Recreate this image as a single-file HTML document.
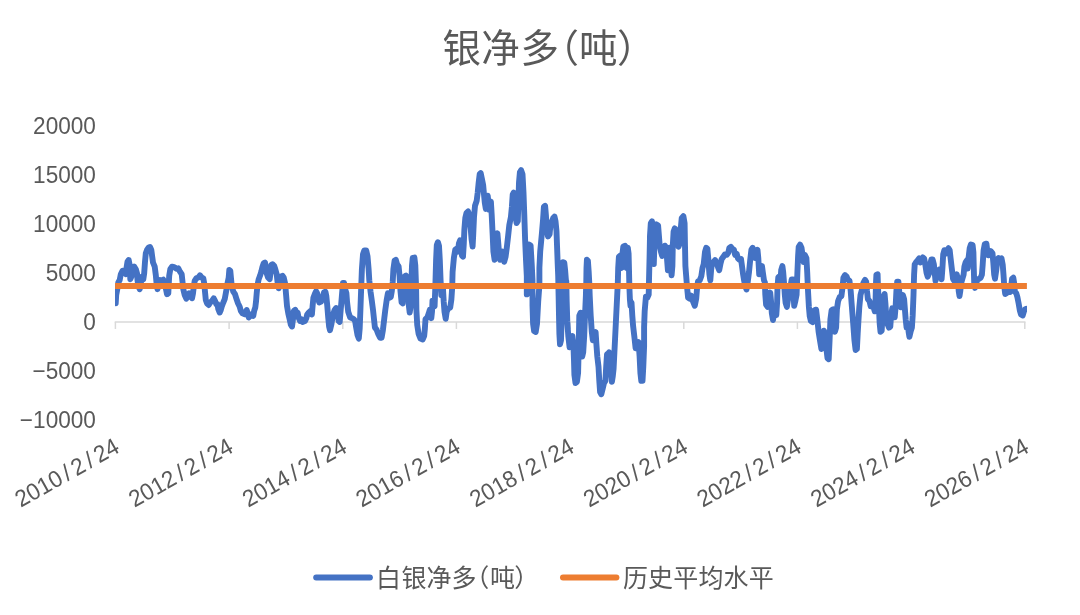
<!DOCTYPE html>
<html lang="zh"><head><meta charset="utf-8"><title>银净多(吨)</title>
<style>
html,body{margin:0;padding:0;background:#fff;}
body{width:1080px;height:615px;overflow:hidden;}
svg{display:block;}
.cjk{font-family:"Liberation Sans","Noto Sans CJK SC",sans-serif;}
.num{font-family:"Liberation Sans","Noto Sans CJK SC",sans-serif;}
</style></head><body>
<svg width="1080" height="615" viewBox="0 0 1080 615">
<rect width="1080" height="615" fill="#fff"/>
<defs><clipPath id="plot"><rect x="115.1" y="100" width="911.8" height="340"/></clipPath></defs>
<text class="cjk" font-size="38.5" fill="#595959" y="61.5" x="442.6 481.3 520.6 540.5 579 617">银净多（吨）</text>
<text class="num" font-size="23.6" fill="#595959" text-anchor="end" transform="translate(95.9,133.6) scale(0.958,1)">20000</text>
<text class="num" font-size="23.6" fill="#595959" text-anchor="end" transform="translate(95.9,182.7) scale(0.958,1)">15000</text>
<text class="num" font-size="23.6" fill="#595959" text-anchor="end" transform="translate(95.9,231.8) scale(0.958,1)">10000</text>
<text class="num" font-size="23.6" fill="#595959" text-anchor="end" transform="translate(95.9,280.9) scale(0.958,1)">5000</text>
<text class="num" font-size="23.6" fill="#595959" text-anchor="end" transform="translate(95.9,330.0) scale(0.958,1)">0</text>
<text class="num" font-size="23.6" fill="#595959" text-anchor="end" transform="translate(95.9,379.1) scale(0.958,1)">−5000</text>
<text class="num" font-size="23.6" fill="#595959" text-anchor="end" transform="translate(95.9,428.2) scale(0.958,1)">−10000</text>
<path d="M114.7,321.95 H1025.5" stroke="#d9d9d9" stroke-width="1.5" fill="none"/>
<path d="M115.4,321.95 V328.95" stroke="#d9d9d9" stroke-width="1.5" fill="none"/>
<path d="M229.1,321.95 V328.95" stroke="#d9d9d9" stroke-width="1.5" fill="none"/>
<path d="M342.8,321.95 V328.95" stroke="#d9d9d9" stroke-width="1.5" fill="none"/>
<path d="M456.4,321.95 V328.95" stroke="#d9d9d9" stroke-width="1.5" fill="none"/>
<path d="M570.1,321.95 V328.95" stroke="#d9d9d9" stroke-width="1.5" fill="none"/>
<path d="M683.8,321.95 V328.95" stroke="#d9d9d9" stroke-width="1.5" fill="none"/>
<path d="M797.4,321.95 V328.95" stroke="#d9d9d9" stroke-width="1.5" fill="none"/>
<path d="M911.1,321.95 V328.95" stroke="#d9d9d9" stroke-width="1.5" fill="none"/>
<path d="M1024.8,321.95 V328.95" stroke="#d9d9d9" stroke-width="1.5" fill="none"/>
<text class="num" font-size="23.6" fill="#595959" text-anchor="end" transform="translate(121.0,451.2) rotate(-29.5) scale(0.958,1)" x="0" y="0" dx="0 0 0 0 3.8 3.8 3.8 3.8 0">2010/2/24</text>
<text class="num" font-size="23.6" fill="#595959" text-anchor="end" transform="translate(234.7,451.2) rotate(-29.5) scale(0.958,1)" x="0" y="0" dx="0 0 0 0 3.8 3.8 3.8 3.8 0">2012/2/24</text>
<text class="num" font-size="23.6" fill="#595959" text-anchor="end" transform="translate(348.4,451.2) rotate(-29.5) scale(0.958,1)" x="0" y="0" dx="0 0 0 0 3.8 3.8 3.8 3.8 0">2014/2/24</text>
<text class="num" font-size="23.6" fill="#595959" text-anchor="end" transform="translate(462.0,451.2) rotate(-29.5) scale(0.958,1)" x="0" y="0" dx="0 0 0 0 3.8 3.8 3.8 3.8 0">2016/2/24</text>
<text class="num" font-size="23.6" fill="#595959" text-anchor="end" transform="translate(575.7,451.2) rotate(-29.5) scale(0.958,1)" x="0" y="0" dx="0 0 0 0 3.8 3.8 3.8 3.8 0">2018/2/24</text>
<text class="num" font-size="23.6" fill="#595959" text-anchor="end" transform="translate(689.4,451.2) rotate(-29.5) scale(0.958,1)" x="0" y="0" dx="0 0 0 0 3.8 3.8 3.8 3.8 0">2020/2/24</text>
<text class="num" font-size="23.6" fill="#595959" text-anchor="end" transform="translate(803.0,451.2) rotate(-29.5) scale(0.958,1)" x="0" y="0" dx="0 0 0 0 3.8 3.8 3.8 3.8 0">2022/2/24</text>
<text class="num" font-size="23.6" fill="#595959" text-anchor="end" transform="translate(916.7,451.2) rotate(-29.5) scale(0.958,1)" x="0" y="0" dx="0 0 0 0 3.8 3.8 3.8 3.8 0">2024/2/24</text>
<text class="num" font-size="23.6" fill="#595959" text-anchor="end" transform="translate(1030.4,451.2) rotate(-29.5) scale(0.958,1)" x="0" y="0" dx="0 0 0 0 3.8 3.8 3.8 3.8 0">2026/2/24</text>
<path d="M115.7,303.2 L116.2,295.0 L117.5,288.0 L118.3,282.5 L119.7,280.0 L120.8,274.2 L122.5,270.8 L124.7,270.8 L125.8,274.2 L126.7,266.7 L127.5,261.7 L128.7,260.0 L129.7,265.0 L130.0,273.3 L130.3,279.2 L131.7,275.8 L133.0,269.2 L134.3,266.7 L135.8,269.2 L137.0,273.3 L137.5,280.0 L138.3,285.8 L139.7,289.2 L140.8,283.3 L141.7,276.7 L143.3,279.2 L144.2,273.3 L145.0,261.7 L145.8,253.3 L147.0,250.0 L148.7,247.5 L150.0,247.0 L151.3,250.0 L152.2,256.7 L153.0,262.5 L154.7,266.7 L155.8,275.0 L156.7,285.0 L157.5,289.2 L158.7,283.3 L160.0,280.0 L161.7,280.8 L163.3,279.7 L164.7,282.5 L165.8,288.3 L167.0,294.2 L168.3,293.3 L168.7,285.0 L169.2,275.8 L170.3,269.2 L172.0,266.7 L174.2,267.2 L176.3,268.7 L178.3,268.3 L180.0,271.7 L181.7,274.2 L182.5,281.7 L183.3,289.2 L184.7,295.0 L186.3,298.7 L188.0,296.7 L189.2,293.3 L190.8,295.8 L192.0,298.3 L193.0,293.3 L193.8,286.7 L194.7,280.8 L196.3,278.3 L198.3,277.5 L200.0,275.3 L201.7,277.5 L203.3,278.3 L204.2,283.3 L205.0,291.7 L205.8,300.0 L207.0,303.3 L208.7,305.0 L210.3,302.5 L212.0,300.8 L213.7,298.3 L215.0,300.8 L216.3,304.2 L217.5,304.2 L218.3,309.2 L219.7,312.5 L220.8,310.0 L222.0,305.8 L223.3,302.5 L224.7,299.2 L225.8,293.3 L226.7,288.3 L227.5,283.3 L228.7,277.5 L229.3,270.0 L230.3,270.8 L231.0,278.3 L231.7,285.8 L233.3,291.7 L235.0,294.2 L236.3,298.3 L238.0,303.3 L239.7,306.7 L240.8,310.8 L242.5,313.3 L244.7,314.2 L246.7,310.0 L248.0,314.2 L248.7,317.5 L250.3,315.8 L252.0,314.2 L253.3,315.8 L254.2,310.8 L255.3,307.5 L256.0,301.7 L256.7,293.3 L257.5,285.0 L258.7,279.2 L260.0,275.8 L261.3,271.7 L262.5,266.7 L263.7,263.3 L265.0,262.5 L265.8,266.7 L266.7,273.3 L268.0,277.5 L269.7,279.2 L270.5,273.3 L271.3,265.0 L272.5,264.2 L274.2,265.8 L275.3,269.2 L276.7,274.2 L277.5,281.7 L278.7,288.3 L279.7,283.3 L280.8,276.7 L282.5,275.8 L283.7,277.4 L285.2,283.9 L286.1,295.0 L287.0,306.1 L288.3,313.6 L289.6,319.1 L290.8,324.7 L292.0,326.5 L293.0,319.1 L293.9,310.8 L295.2,309.8 L296.7,313.6 L297.6,312.6 L298.5,317.3 L300.0,321.0 L301.3,319.1 L302.6,321.9 L305.0,321.0 L306.3,318.2 L307.2,314.5 L308.7,312.6 L310.6,310.8 L311.9,314.5 L312.6,306.1 L313.4,297.8 L314.8,294.1 L316.1,291.3 L317.1,293.2 L318.0,298.7 L319.3,302.4 L321.1,301.5 L322.6,296.9 L324.1,292.2 L325.4,291.7 L326.3,295.9 L327.3,306.1 L328.2,317.3 L329.1,326.5 L330.0,330.2 L331.5,323.8 L332.8,315.4 L334.7,309.8 L336.2,308.0 L337.5,313.6 L338.6,321.0 L339.7,321.9 L340.4,313.6 L341.2,304.3 L342.1,293.2 L343.0,283.0 L344.1,283.0 L345.2,289.5 L346.4,293.2 L347.1,302.4 L348.2,311.7 L350.1,317.3 L351.9,318.2 L353.8,319.1 L355.1,321.0 L356.0,326.5 L357.5,334.9 L358.8,338.6 L359.7,328.4 L360.4,309.8 L361.2,287.6 L361.9,269.1 L363.0,254.2 L364.3,250.5 L366.2,250.5 L367.5,256.1 L368.6,269.1 L369.3,280.2 L370.5,291.3 L371.8,300.6 L373.0,309.8 L374.2,321.0 L374.9,327.5 L376.4,329.3 L378.2,333.9 L380.1,337.7 L381.6,337.7 L382.9,330.2 L384.2,319.1 L385.3,309.8 L386.6,300.6 L387.9,293.2 L389.4,297.8 L390.8,296.9 L391.8,291.3 L392.7,282.0 L393.4,269.1 L394.6,260.7 L395.8,259.8 L397.1,264.4 L398.6,266.3 L399.6,276.5 L400.5,291.3 L401.6,302.4 L402.7,303.4 L403.6,287.6 L404.6,276.5 L406.0,275.6 L407.5,279.3 L408.3,291.3 L408.8,305.2 L409.7,312.6 L410.7,306.1 L411.2,287.6 L412.0,265.4 L412.7,257.9 L414.4,257.6 L415.3,265.4 L416.1,287.6 L416.4,309.8 L417.2,324.7 L418.6,333.9 L420.5,338.6 L422.7,339.5 L424.2,335.8 L424.9,328.4 L425.5,319.1 L427.4,317.3 L428.7,313.6 L429.8,309.8 L431.3,318.2 L432.0,311.7 L432.5,300.6 L433.5,305.2 L434.6,306.1 L435.3,287.6 L436.1,259.8 L436.8,245.0 L437.9,242.2 L439.0,245.9 L439.8,259.8 L440.5,278.3 L441.3,295.0 L442.9,287.2 L443.7,301.5 L444.5,311.7 L445.7,318.8 L446.7,311.7 L448.1,308.6 L450.2,307.6 L451.4,299.4 L452.2,287.2 L452.6,272.0 L453.9,257.7 L455.3,249.6 L456.7,248.6 L457.9,251.6 L458.9,243.5 L460.0,240.4 L461.0,247.6 L462.0,255.7 L463.0,256.7 L463.8,243.5 L464.4,229.2 L465.3,218.0 L466.5,212.9 L468.1,211.5 L469.5,215.0 L470.6,227.2 L471.6,239.4 L472.6,246.5 L473.2,235.3 L474.0,217.0 L475.0,205.8 L476.7,200.7 L477.7,192.6 L478.7,182.4 L479.7,174.2 L480.7,173.2 L481.8,178.3 L483.2,185.4 L484.0,194.6 L484.8,202.7 L485.8,208.9 L486.9,202.7 L487.7,195.6 L488.5,202.7 L489.3,209.9 L490.1,204.8 L490.9,201.7 L491.7,215.0 L492.6,233.3 L493.4,251.6 L494.6,259.8 L495.6,249.6 L496.4,237.4 L497.4,233.3 L498.3,243.5 L499.1,253.7 L500.1,259.8 L501.5,255.7 L502.5,251.6 L504.2,261.8 L505.6,256.7 L506.8,247.6 L508.2,235.3 L509.3,225.1 L510.9,217.0 L511.9,206.8 L512.7,194.6 L513.7,192.6 L514.6,202.7 L515.4,215.0 L516.6,223.1 L517.8,221.1 L518.4,202.7 L519.0,182.4 L519.9,172.2 L521.1,170.1 L522.5,174.2 L523.5,192.6 L524.3,215.0 L525.1,239.4 L526.0,259.8 L526.8,276.1 L526.8,285.2 L526.8,294.4 L527.6,287.2 L528.2,263.9 L529.0,244.5 L530.6,245.5 L531.7,263.9 L532.5,280.2 L532.5,291.3 L532.5,305.6 L533.1,323.9 L534.1,331.0 L535.7,332.0 L537.0,323.9 L538.2,301.5 L539.4,285.2 L539.4,267.9 L540.2,251.6 L541.9,233.3 L543.1,219.0 L543.9,206.8 L545.1,205.8 L545.9,215.0 L546.7,229.2 L548.0,236.4 L549.6,234.3 L550.6,223.1 L552.0,221.1 L553.3,218.0 L554.5,216.6 L555.5,221.1 L556.5,231.3 L557.1,247.6 L557.7,263.9 L558.2,276.1 L558.6,295.4 L559.0,315.7 L559.4,334.1 L560.0,344.3 L561.0,340.2 L561.6,321.9 L562.0,305.6 L562.4,287.2 L562.6,267.9 L563.0,262.2 L564.3,262.8 L565.1,270.0 L565.9,280.2 L566.3,281.1 L566.7,301.5 L567.3,321.9 L568.3,336.1 L569.6,347.3 L570.8,338.1 L572.4,336.1 L573.4,344.3 L574.0,360.6 L574.4,374.8 L575.5,383.0 L576.9,381.9 L578.1,372.8 L578.5,356.5 L578.9,336.1 L579.3,315.7 L580.6,312.7 L581.4,321.9 L581.8,342.2 L582.2,356.5 L583.2,352.4 L584.2,336.1 L585.0,315.7 L585.9,295.4 L586.3,281.1 L586.5,267.9 L586.9,259.8 L587.9,260.8 L588.7,272.0 L589.3,283.1 L589.7,295.4 L590.7,315.7 L591.8,332.0 L592.8,340.2 L594.4,336.1 L595.6,332.0 L596.4,344.3 L597.3,356.5 L598.5,366.7 L599.3,380.9 L600.1,392.1 L601.3,394.2 L602.6,389.1 L604.0,383.0 L605.4,380.9 L606.2,366.7 L607.0,354.4 L608.3,353.4 L609.1,352.4 L610.3,356.5 L611.1,370.7 L611.9,381.9 L612.7,376.9 L613.6,368.7 L614.4,352.4 L615.2,336.1 L616.2,315.7 L617.2,295.4 L617.8,283.1 L618.2,267.9 L618.9,256.7 L620.1,255.7 L620.9,263.9 L621.7,267.9 L622.5,253.7 L623.3,246.5 L625.0,245.9 L626.2,251.6 L626.8,267.9 L627.4,259.8 L627.8,247.6 L628.6,253.7 L629.0,270.0 L629.4,287.2 L629.9,299.4 L630.5,305.6 L631.5,302.5 L632.3,315.7 L633.1,325.9 L634.3,336.1 L635.6,348.3 L637.2,344.3 L638.6,342.2 L639.6,356.5 L640.4,372.8 L641.3,380.9 L642.5,380.9 L643.3,366.7 L644.1,346.3 L644.1,327.2 L644.7,310.9 L645.9,296.7 L647.3,297.7 L648.7,294.6 L649.1,276.3 L649.6,255.9 L650.0,235.6 L650.8,223.3 L652.0,221.3 L652.8,235.6 L653.2,255.9 L653.8,264.1 L654.4,245.7 L655.3,227.4 L656.5,224.4 L658.1,225.4 L658.9,235.6 L659.7,245.7 L661.0,251.9 L662.2,255.9 L663.6,251.9 L665.0,245.7 L666.3,247.8 L667.1,260.0 L667.9,270.2 L668.7,258.0 L669.5,247.8 L670.3,262.0 L671.6,275.3 L672.4,266.1 L672.8,245.7 L673.6,231.5 L674.8,228.4 L676.4,230.5 L677.3,239.6 L678.5,246.8 L679.7,243.7 L680.5,231.5 L681.7,218.2 L683.4,216.2 L684.6,223.3 L685.0,245.7 L685.4,266.1 L686.2,276.3 L687.0,286.5 L688.1,297.7 L689.5,298.7 L691.1,295.6 L692.7,300.7 L694.8,305.8 L696.2,298.7 L697.2,286.5 L698.0,281.4 L699.7,280.4 L701.3,276.3 L702.5,268.1 L703.7,264.1 L705.0,251.9 L706.2,247.8 L707.4,248.8 L708.4,260.0 L709.4,274.3 L710.3,280.4 L711.1,270.2 L711.9,264.1 L713.5,262.0 L715.1,260.0 L716.6,263.1 L718.0,267.1 L719.2,270.2 L720.4,264.1 L721.7,259.0 L723.3,256.9 L724.9,254.5 L726.8,254.9 L728.2,252.9 L729.4,247.8 L730.8,246.8 L732.3,248.8 L733.9,249.8 L735.1,254.9 L736.7,253.9 L738.0,258.4 L739.6,260.0 L741.0,259.0 L742.0,266.1 L743.1,274.3 L744.1,280.4 L745.3,286.5 L746.5,289.5 L747.7,282.4 L749.0,272.2 L750.2,260.0 L751.4,249.8 L752.6,247.8 L753.9,250.8 L755.1,258.0 L756.3,253.9 L757.5,249.8 L758.3,258.0 L759.2,274.3 L760.4,272.2 L762.0,266.1 L762.8,272.2 L764.0,280.4 L764.9,282.4 L765.3,294.6 L766.1,304.8 L767.7,306.9 L768.9,298.7 L770.2,292.6 L771.0,300.7 L771.8,313.0 L773.0,320.1 L774.2,313.0 L775.4,306.9 L776.3,315.0 L777.1,302.8 L777.5,286.5 L778.3,277.3 L779.5,276.3 L780.3,282.4 L781.2,270.2 L782.4,266.1 L783.2,272.2 L784.0,282.4 L784.8,294.6 L785.6,302.8 L786.9,306.9 L788.1,298.7 L789.3,294.6 L790.5,286.5 L791.7,279.4 L793.0,279.4 L793.4,292.6 L794.2,305.8 L795.4,300.7 L796.6,294.6 L797.4,272.2 L798.1,255.9 L798.7,246.8 L800.1,244.7 L801.5,247.8 L802.7,255.9 L803.6,262.0 L804.8,254.9 L806.4,258.0 L807.2,272.2 L808.0,290.6 L808.9,306.9 L809.7,316.0 L810.9,321.1 L812.5,322.1 L813.7,310.9 L815.4,309.9 L816.1,309.7 L817.3,319.5 L818.6,331.7 L820.2,341.9 L821.4,349.0 L822.6,335.8 L823.9,330.7 L825.1,333.7 L826.3,348.0 L827.5,358.2 L828.7,359.2 L829.6,339.9 L830.4,319.5 L831.6,310.3 L833.2,309.3 L834.0,319.5 L834.9,331.7 L836.1,327.6 L836.9,309.3 L838.1,301.1 L839.7,297.1 L841.4,296.1 L842.6,286.9 L843.4,277.7 L845.0,275.1 L846.7,276.7 L847.9,279.8 L849.5,280.8 L850.7,291.0 L851.6,303.2 L852.4,313.4 L853.2,323.6 L854.4,339.9 L855.6,350.0 L856.9,349.0 L857.7,333.7 L858.5,319.5 L859.3,307.3 L860.5,295.0 L862.1,288.9 L863.4,282.8 L865.0,279.8 L866.2,281.8 L867.0,291.0 L867.9,299.1 L869.5,301.1 L870.7,306.2 L872.3,305.2 L873.6,307.3 L874.8,311.3 L875.6,299.1 L876.0,282.8 L876.4,274.7 L877.6,274.3 L878.0,286.9 L878.9,307.3 L879.7,323.6 L880.5,331.7 L881.7,330.7 L882.5,315.4 L883.3,297.1 L884.6,294.0 L885.4,303.2 L886.2,315.4 L887.4,323.6 L889.0,327.6 L890.3,326.6 L891.1,315.4 L892.3,308.3 L893.5,309.3 L894.7,317.4 L895.6,307.3 L896.4,291.0 L897.2,281.8 L898.4,281.8 L899.2,291.0 L900.0,303.2 L900.9,307.3 L901.7,299.1 L902.9,295.0 L904.1,299.1 L904.9,309.3 L905.7,319.5 L906.6,327.6 L907.8,323.6 L908.6,331.7 L909.4,336.8 L910.6,331.7 L911.9,327.6 L912.7,315.4 L913.5,295.0 L914.1,274.7 L914.7,264.5 L915.9,262.4 L917.6,260.4 L919.2,258.4 L920.4,262.4 L921.6,260.4 L922.9,257.4 L924.1,258.4 L925.3,264.5 L926.5,272.6 L927.7,276.7 L929.0,273.6 L930.2,264.5 L931.4,259.4 L932.6,259.4 L933.9,264.5 L934.7,272.6 L935.5,280.8 L936.7,277.1 L937.9,271.0 L939.6,269.4 L940.8,273.6 L941.6,279.4 L942.4,268.6 L943.2,254.3 L944.4,250.2 L946.1,253.3 L947.3,250.2 L948.5,248.2 L949.7,250.2 L950.6,258.4 L951.8,268.6 L953.0,278.7 L954.2,280.8 L955.4,276.7 L956.7,274.3 L957.9,278.7 L958.7,291.0 L959.5,296.1 L960.3,291.0 L961.2,282.8 L962.4,278.7 L963.6,274.7 L964.4,266.5 L965.6,262.4 L966.9,260.4 L967.7,268.6 L968.5,258.4 L969.7,248.2 L970.9,244.5 L972.6,245.1 L973.4,252.3 L973.8,268.6 L974.2,282.8 L975.0,287.9 L976.2,282.8 L977.4,279.8 L979.1,278.7 L980.7,277.7 L981.9,274.7 L982.7,264.5 L983.6,250.2 L984.8,244.1 L986.4,243.7 L987.2,250.2 L988.4,255.3 L989.7,253.3 L990.9,251.2 L992.5,253.3 L993.3,262.4 L994.2,274.7 L995.0,278.7 L996.2,270.6 L997.4,259.4 L998.6,258.0 L1000.3,259.4 L1001.5,258.4 L1002.7,264.5 L1003.5,274.7 L1004.3,286.9 L1005.2,294.0 L1006.8,293.0 L1008.4,291.4 L1010.0,292.0 L1011.3,284.9 L1012.1,278.7 L1013.3,277.7 L1014.1,282.8 L1014.9,292.0 L1016.2,293.0 L1017.4,297.1 L1018.6,303.2 L1019.8,310.3 L1021.0,314.4 L1022.7,315.4 L1023.9,311.3 L1025.1,309.3 L1026.3,308.9" stroke="#4472c4" stroke-width="5.9" fill="none" stroke-linejoin="round" stroke-linecap="round" clip-path="url(#plot)"/>
<path d="M115.1,286 H1026.9" stroke="#ed7d31" stroke-width="6" fill="none"/>
<path d="M316.2,577.4 H369.9" stroke="#4472c4" stroke-width="6" stroke-linecap="round" fill="none"/>
<text class="cjk" font-size="25" fill="#595959" y="586.5" x="376.1 401.6 426.6 451.6 464.3 490 514.2">白银净多（吨）</text>
<path d="M563,577.4 H616.4" stroke="#ed7d31" stroke-width="6" stroke-linecap="round" fill="none"/>
<text class="cjk" font-size="25" fill="#595959" y="586.5" x="622.9 648.1 673.3 698.4 723.6 748.8">历史平均水平</text>
</svg>
</body></html>
